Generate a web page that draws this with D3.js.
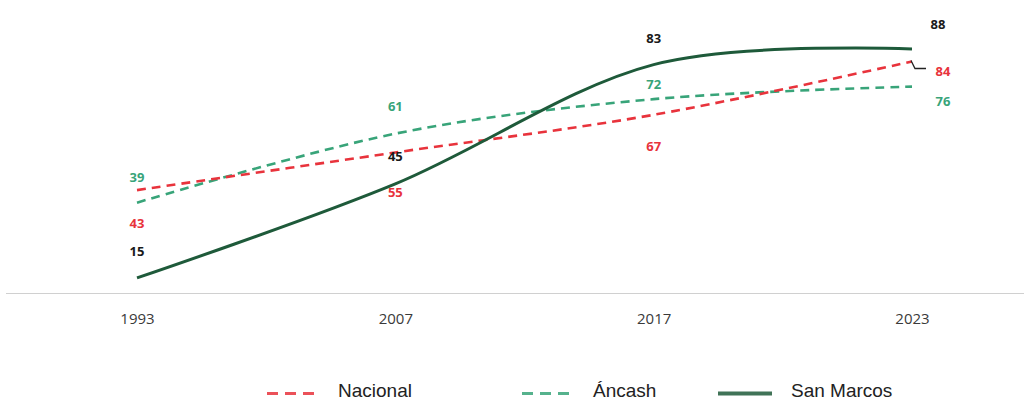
<!DOCTYPE html>
<html>
<head>
<meta charset="utf-8">
<script src="https://cdn.jsdelivr.net/npm/d3@7"></script>
<style>
  html, body { margin: 0; padding: 0; background: #fff; }
  svg { display: block; }
</style>
</head>
<body>
<svg id="chart" width="1030" height="401"></svg>
<script>
// Survey years (category axis)
const years = ["1993", "2007", "2017", "2023"];

// Series values (%)
const nacional = [43, 55, 67, 84];
const ancash = [39, 61, 72, 76];
const sanMarcos = [15, 45, 83, 88];

const seriesNames = ["Nacional", "Áncash", "San Marcos"];

const colors = {
  "Nacional": "#e8333c",
  "Áncash": "#38a479",
  "San Marcos": "#1e5a3a"
};
const labelColors = {
  "Nacional": "#e8333c",
  "Áncash": "#38a479",
  "San Marcos": "#1a1a1a"
};

// label placement offsets (dx, dy from the point) per series and year
const labelOffsets = {
  "Nacional":   [[0, 33], [0, 40], [0, 31], [31, 10]],
  "Áncash":     [[0, -26], [0, -28], [0, -15], [31, 14]],
  "San Marcos": [[0, -27], [0, -28], [0, -27], [26, -25]]
};

const seriesData = {
  "Nacional": nacional,
  "Áncash": ancash,
  "San Marcos": sanMarcos
};

const svg = d3.select("#chart");

const x = d3.scalePoint().domain(years).range([137, 912]);
const y = d3.scaleLinear().domain([0, 100]).range([325, 11.3]);

// horizontal category axis line
svg.append("line")
  .attr("x1", 6).attr("x2", 1024)
  .attr("y1", 293.5).attr("y2", 293.5)
  .attr("stroke", "#d0d0d0").attr("stroke-width", 1.2);

// year labels
const xAxis = d3.axisBottom(x).tickSize(0).tickPadding(0);
const gx = svg.append("g").attr("transform", "translate(0,313)").call(xAxis);
gx.select(".domain").remove();
gx.selectAll("text")
  .attr("font-family", "'Liberation Sans Narrow', 'Open Sans', sans-serif")
  .attr("font-size", 15)
  .attr("fill", "#3a3a3a")
  .attr("dy", "0.71em");

const line = d3.line()
  .x((d, i) => x(years[i]))
  .y(d => y(d))
  .curve(d3.curveCardinal.tension(0));

// draw order: Áncash, Nacional, San Marcos
const drawOrder = ["Áncash", "Nacional", "San Marcos"];
drawOrder.forEach(name => {
  const p = svg.append("path")
    .datum(seriesData[name])
    .attr("d", line)
    .attr("fill", "none")
    .attr("stroke", colors[name])
    .attr("stroke-width", name === "San Marcos" ? 3 : 2.6);
  if (name !== "San Marcos") p.attr("stroke-dasharray", "9,6");
});

// data labels
seriesNames.forEach(name => {
  svg.append("g").selectAll("text")
    .data(seriesData[name])
    .join("text")
    .attr("x", (d, i) => x(years[i]) + labelOffsets[name][i][0])
    .attr("y", (d, i) => y(d) + labelOffsets[name][i][1])
    .attr("text-anchor", "middle")
    .attr("dominant-baseline", "central")
    .attr("font-family", "'Open Sans', 'Liberation Sans', sans-serif")
    .attr("font-weight", "bold")
    .attr("font-size", 13)
    .attr("fill", labelColors[name])
    .text(d => d);
});

// leader line for the 2023 Nacional label
const lx = x("2023"), ly = y(nacional[3]);
svg.append("path")
  .attr("d", `M${lx - 1},${ly - 1} L${lx + 3},${ly + 7} L${lx + 14},${ly + 7}`)
  .attr("fill", "none")
  .attr("stroke", "#222")
  .attr("stroke-width", 1.3);

// legend
const legendX = [267, 522, 718];
const legendLineY = 393.5;
seriesNames.forEach((name, i) => {
  const g = svg.append("g").attr("transform", `translate(${legendX[i]},0)`);
  const l = g.append("line")
    .attr("x1", 0).attr("x2", name === "San Marcos" ? 54 : 49)
    .attr("y1", legendLineY).attr("y2", legendLineY)
    .attr("stroke", colors[name])
    .attr("stroke-opacity", 0.85)
    .attr("stroke-width", name === "San Marcos" ? 4 : 3);
  if (name !== "San Marcos") l.attr("stroke-dasharray", "11,7");
  g.append("text")
    .attr("x", name === "San Marcos" ? 73 : 71).attr("y", 397)
    .attr("font-family", "'Liberation Sans', Arial, sans-serif")
    .attr("font-size", 19)
    .attr("fill", "#222")
    .text(name);
});
</script>
</body>
</html>
